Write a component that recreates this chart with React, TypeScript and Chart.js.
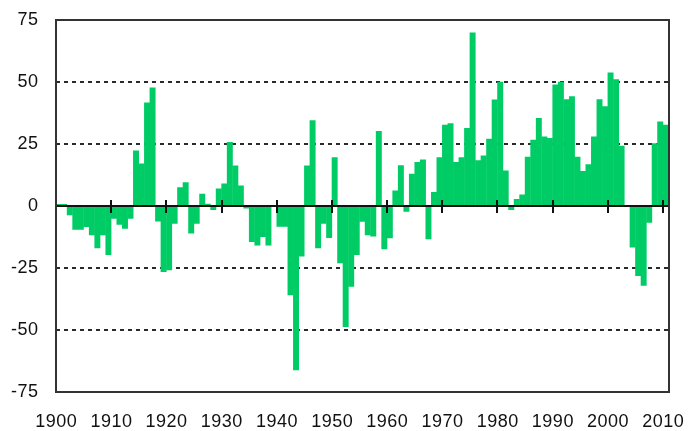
import React, { useEffect, useRef } from "react";
import { Chart, registerables } from "chart.js";

Chart.register(...registerables);

const years = [
  1900, 1901, 1902, 1903, 1904, 1905, 1906, 1907, 1908, 1909,
  1910, 1911, 1912, 1913, 1914, 1915, 1916, 1917, 1918, 1919,
  1920, 1921, 1922, 1923, 1924, 1925, 1926, 1927, 1928, 1929,
  1930, 1931, 1932, 1933, 1934, 1935, 1936, 1937, 1938, 1939,
  1940, 1941, 1942, 1943, 1944, 1945, 1946, 1947, 1948, 1949,
  1950, 1951, 1952, 1953, 1954, 1955, 1956, 1957, 1958, 1959,
  1960, 1961, 1962, 1963, 1964, 1965, 1966, 1967, 1968, 1969,
  1970, 1971, 1972, 1973, 1974, 1975, 1976, 1977, 1978, 1979,
  1980, 1981, 1982, 1983, 1984, 1985, 1986, 1987, 1988, 1989,
  1990, 1991, 1992, 1993, 1994, 1995, 1996, 1997, 1998, 1999,
  2000, 2001, 2002, 2003, 2004, 2005, 2006, 2007, 2008, 2009,
  2010,
];

const values = [
  0.8, 0.8, -3.7, -9.6, -9.6, -8.5, -11.8, -17, -11.8, -19.8,
  -5.1, -7.6, -9.2, -5.1, 22.4, 17.1, 41.7, 47.8, -6.2, -26.6,
  -25.9, -7.2, 7.6, 9.6, -11.1, -7.2, 4.9, 0.9, -1.6, 7.1,
  9.1, 25.8, 16.3, 8.3, -1, -14.5, -15.9, -12.5, -15.9, 0,
  -8.4, -8.4, -36, -66.2, -20.4, 16.3, 34.6, -17, -7.2, -12.9,
  19.7, -23.1, -48.8, -32.6, -19.8, -6.4, -11.8, -12.3, 30.2, -17.4,
  -13, 6.3, 16.4, -2.3, 13, 17.7, 18.8, -13.4, 5.6, 19.7,
  32.8, 33.4, 17.7, 19.7, 31.5, 70, 18.4, 20.4, 27.1, 42.9,
  50.1, 14.3, -1.6, 2.8, 4.6, 19.9, 26.7, 35.5, 28, 27.4,
  49, 50.1, 43, 44.3, 19.9, 14.1, 16.8, 28, 43, 40.2,
  53.8, 51.1, 24.3, 0, -16.7, -28.2, -32.2, -6.8, 25.3, 34.1,
  32.8,
];

const yTickValues = [-75, -50, -25, 0, 25, 50, 75];
const dashedGridValues = [-50, -25, 25, 50];
const xTickYears = [1900, 1910, 1920, 1930, 1940, 1950, 1960, 1970, 1980, 1990, 2000, 2010];

const BAR_COLOR = "#00CC66";
const FONT = "18px 'Liberation Sans', Arial, sans-serif";

const decorPlugin = {
  id: "decor",
  beforeDatasetsDraw(chart: any) {
    const { ctx, chartArea, scales } = chart;
    const y = scales.y;
    ctx.save();
    ctx.strokeStyle = "#2a2a2a";
    ctx.lineWidth = 2;
    ctx.setLineDash([4, 4]);
    dashedGridValues.forEach((v) => {
      const py = Math.round(y.getPixelForValue(v));
      ctx.beginPath();
      ctx.moveTo(chartArea.left, py);
      ctx.lineTo(chartArea.right, py);
      ctx.stroke();
    });
    ctx.restore();
  },
  afterDatasetsDraw(chart: any) {
    const { ctx, chartArea, scales } = chart;
    const x = scales.x;
    const y = scales.y;
    const zero = Math.round(y.getPixelForValue(0));
    ctx.save();
    ctx.setLineDash([]);
    ctx.strokeStyle = "#111";
    ctx.lineWidth = 2;
    ctx.beginPath();
    ctx.moveTo(chartArea.left, zero);
    ctx.lineTo(chartArea.right, zero);
    ctx.stroke();
    xTickYears.forEach((yr) => {
      if (yr === xTickYears[0]) return;
      const px = Math.round(x.getPixelForValue(yr));
      ctx.beginPath();
      ctx.moveTo(px, zero - 6);
      ctx.lineTo(px, zero + 7);
      ctx.stroke();
    });
    ctx.strokeStyle = "#333";
    ctx.lineWidth = 2;
    const l = Math.round(chartArea.left);
    const t = Math.round(chartArea.top);
    const r = Math.round(chartArea.right);
    const b = Math.round(chartArea.bottom);
    ctx.strokeRect(l, t, r - l, b - t);

    // tick labels
    ctx.fillStyle = "#111";
    ctx.font = FONT;
    try {
      (ctx as any).letterSpacing = "0.5px";
    } catch (e) {}
    ctx.textBaseline = "middle";
    ctx.textAlign = "right";
    yTickValues.forEach((v) => {
      ctx.fillText(String(v), chartArea.left - 17.5, y.getPixelForValue(v));
    });
    ctx.textAlign = "center";
    xTickYears.forEach((yr) => {
      ctx.fillText(String(yr), x.getPixelForValue(yr) + 0.25, chartArea.bottom + 30);
    });
    ctx.restore();
  },
};

export default function App() {
  const canvasRef = useRef<HTMLCanvasElement | null>(null);

  useEffect(() => {
    const canvas = canvasRef.current;
    if (!canvas) return;
    const chart = new Chart(canvas, {
      type: "bar",
      data: {
        datasets: [
          {
            data: years.map((yr, i) => ({ x: yr + 0.5, y: values[i] })),
            backgroundColor: BAR_COLOR,
            borderWidth: 0,
            barPercentage: 1.08,
            categoryPercentage: 1,
          },
        ],
      },
      options: {
        responsive: false,
        maintainAspectRatio: false,
        devicePixelRatio: 1,
        animation: false,
        layout: { padding: { left: 0, top: 20, right: 21.5, bottom: 0 } },
        plugins: {
          legend: { display: false },
          tooltip: { enabled: false },
        },
        scales: {
          x: {
            type: "linear",
            offset: false,
            min: 1900,
            max: 2011,
            afterBuildTicks: (scale: any) => {
              scale.ticks = xTickYears.map((v) => ({ value: v }));
            },
            afterFit: (scale: any) => {
              scale.height = 39;
            },
            grid: { display: false, drawTicks: false, offset: false },
            border: { display: false },
            ticks: { display: false },
          },
          y: {
            type: "linear",
            min: -75,
            max: 75,
            afterBuildTicks: (scale: any) => {
              scale.ticks = yTickValues.map((v) => ({ value: v }));
            },
            afterFit: (scale: any) => {
              scale.width = 56;
            },
            grid: { display: false, drawTicks: false },
            border: { display: false },
            ticks: { display: false },
          },
        },
      },
      plugins: [decorPlugin],
    });
    return () => chart.destroy();
  }, []);

  return (
    <div style={{ position: "fixed", left: 0, top: 0, width: 690, height: 431, background: "#fff" }}>
      <canvas ref={canvasRef} width={690} height={431} style={{ display: "block" }} />
    </div>
  );
}
